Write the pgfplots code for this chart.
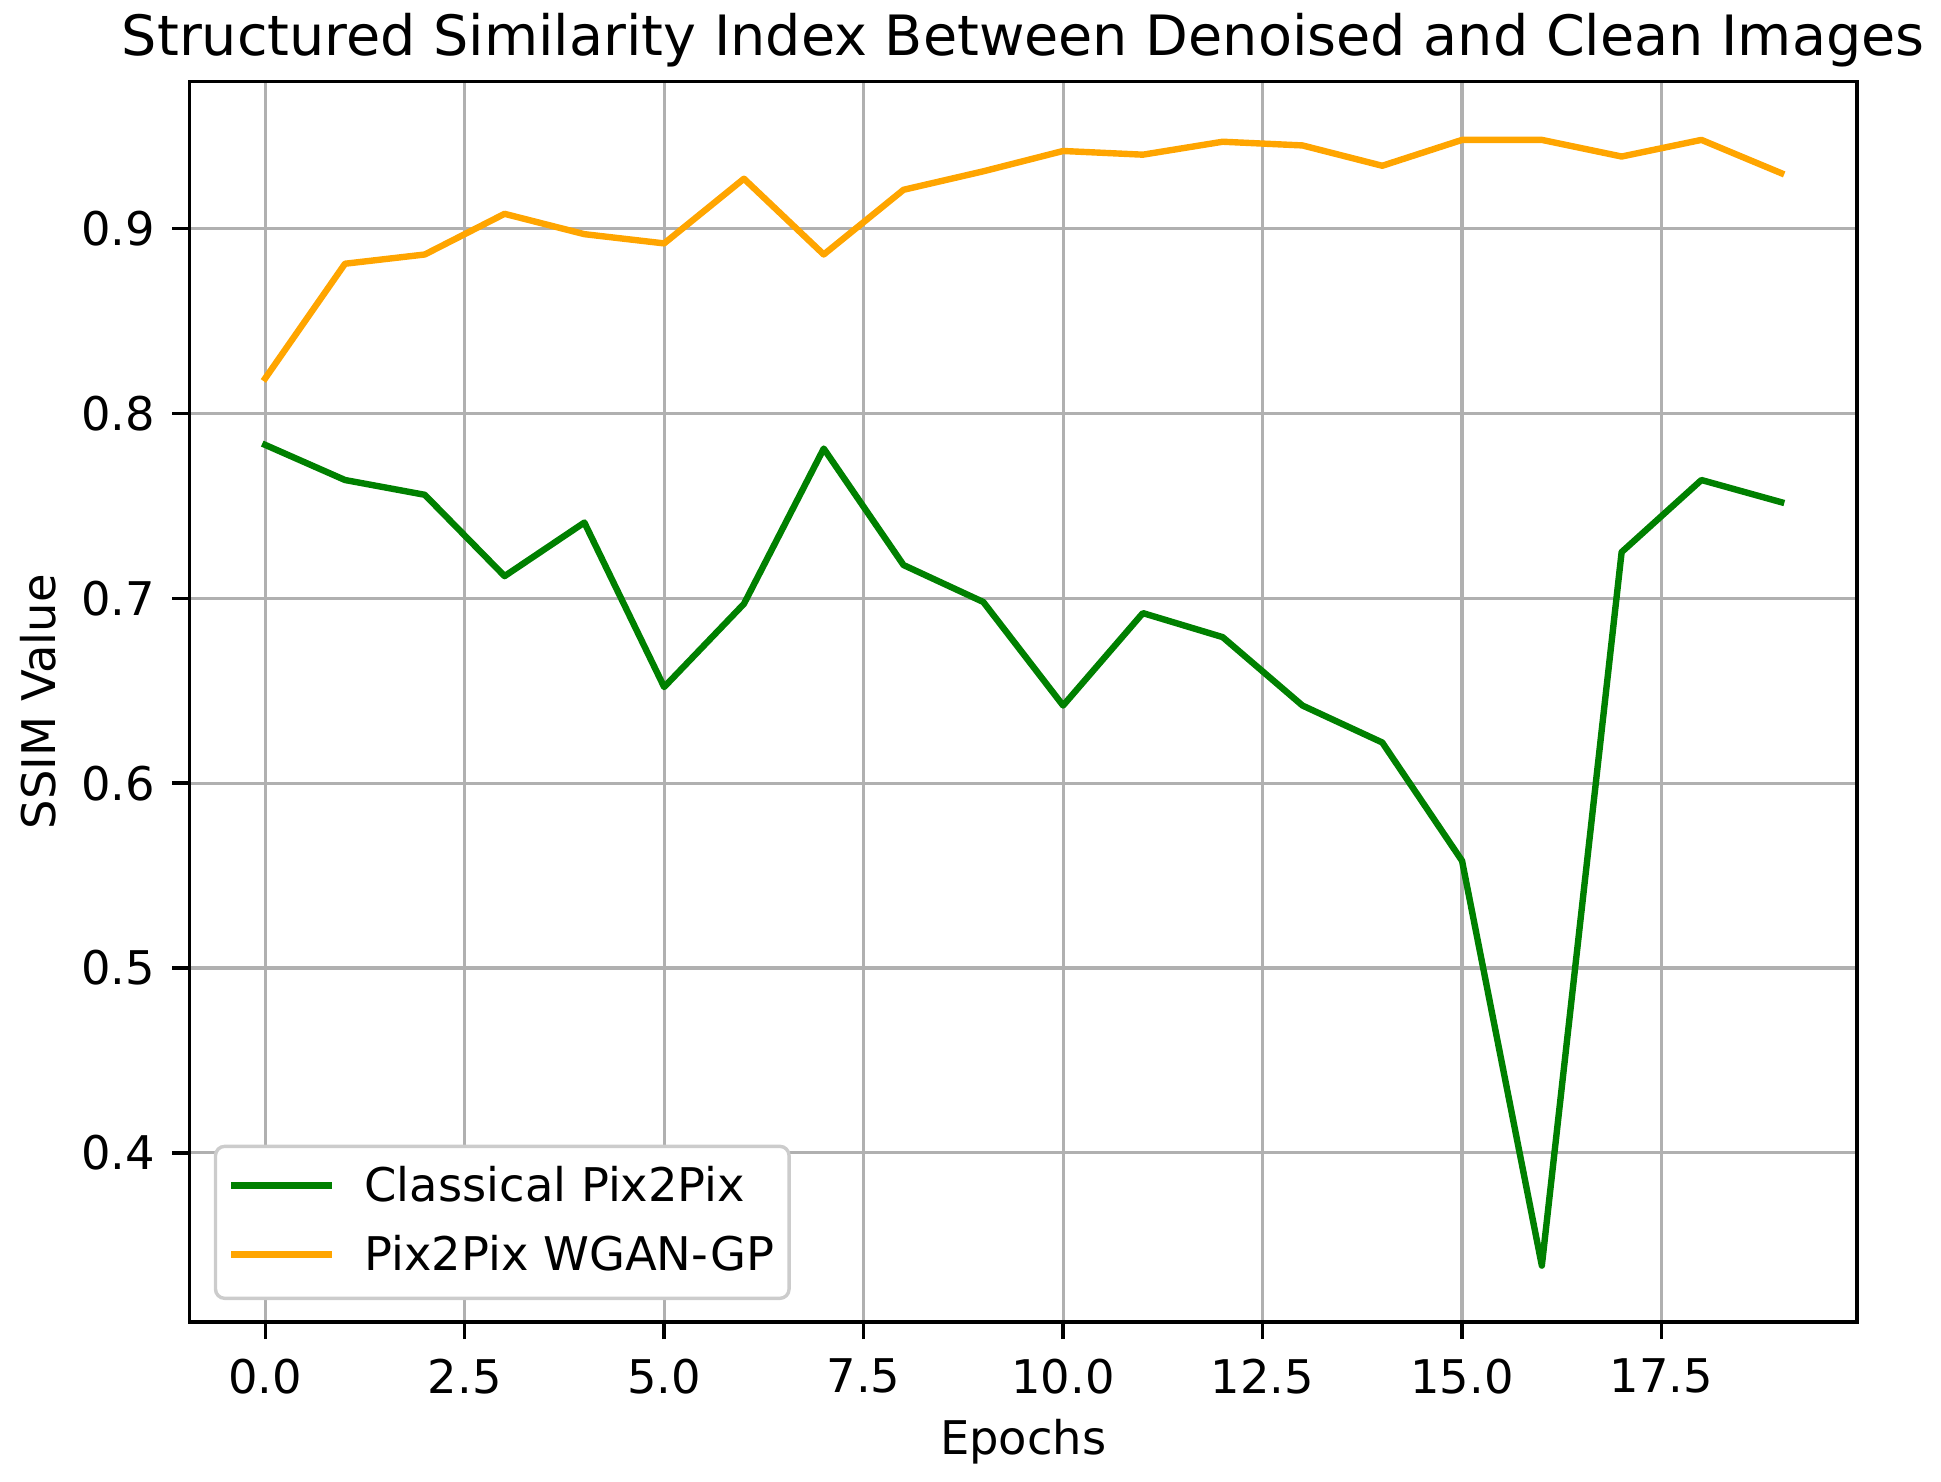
\documentclass[border=0pt]{standalone}
\usepackage{fontspec}
\setmainfont{DejaVu Sans}
\usepackage{pgfplots}
\pgfplotsset{compat=1.18}
\definecolor{mplgreen}{HTML}{008000}
\definecolor{mplorange}{HTML}{FFA500}
\definecolor{gridgray}{HTML}{B0B0B0}
\definecolor{legedge}{HTML}{CCCCCC}
\newcommand{\tfont}{\fontsize{11.6bp}{13.9bp}\selectfont}
\begin{document}
\begin{tikzpicture}
\useasboundingbox (-47.35bp,-40bp) rectangle (437.9bp,330.5bp);
\begin{axis}[
  at={(0,0)}, anchor=south west,
  scale only axis, width=416.9bp, height=310.08bp,
  xmin=-0.95, xmax=19.95, ymin=0.3085, ymax=0.9795,
  axis line style={line width=0.85bp, black},
  tick style={line width=0.85bp, black},
  major tick length=4.25bp,
  tick align=outside,
  tick pos=left,
  grid=major,
  major grid style={gridgray, line width=0.8bp},
  xtick={0,2.5,5,7.5,10,12.5,15,17.5},
  xticklabels={0.0,2.5,5.0,7.5,10.0,12.5,15.0,17.5},
  ytick={0.4,0.5,0.6,0.7,0.8,0.9},
  yticklabels={0.4,0.5,0.6,0.7,0.8,0.9},
  xticklabel style={font=\tfont, inner sep=0pt, anchor=north, yshift=-4.75bp},
  yticklabel style={font=\tfont, inner sep=0pt, anchor=east, xshift=-4.1bp},
  title={Structured Similarity Index Between Denoised and Clean Images},
  title style={font=\fontsize{13.9bp}{16.7bp}\selectfont, at={(axis description cs:0.5,1.0207)}, anchor=base, inner sep=0pt, yshift=-6pt},
  xlabel={Epochs},
  xlabel style={font=\tfont, at={(axis description cs:0.5,-0.1072)}, anchor=base, inner sep=0pt},
  ylabel={SSIM Value},
  ylabel style={font=\tfont, at={(axis description cs:-0.08,0.5)}, anchor=base, inner sep=0pt},
  legend cell align=left,
  legend style={at={(axis description cs:0.01463,0.0177)}, anchor=south west,
    font=\tfont, draw=legedge, fill=white, rounded corners=2.3bp, line width=0.85bp,
    inner xsep=3.75bp, inner ysep=1.75bp, row sep=0pt, column sep=0pt,
    nodes={inner sep=0pt, text height=12bp, text depth=5.25bp}},
  legend image code/.code={\path[draw=none] (0bp,0bp) -- (33.5bp,0bp); \draw[line width=1.6bp, line cap=rect] (0.8bp,0.6bp) -- (24.45bp,0.6bp);},
]
\addplot[mplgreen, line width=1.6bp, line join=round, line cap=rect] coordinates {
(0,0.783) (1,0.764) (2,0.756) (3,0.712) (4,0.741) (5,0.652) (6,0.697) (7,0.781) (8,0.718) (9,0.698)
(10,0.642) (11,0.692) (12,0.679) (13,0.642) (14,0.622) (15,0.558) (16,0.339) (17,0.725) (18,0.764) (19,0.752)};
\addlegendentry{Classical Pix2Pix}
\addplot[mplorange, line width=1.6bp, line join=round, line cap=rect] coordinates {
(0,0.819) (1,0.881) (2,0.886) (3,0.908) (4,0.897) (5,0.892) (6,0.927) (7,0.886) (8,0.921) (9,0.931)
(10,0.942) (11,0.940) (12,0.947) (13,0.945) (14,0.934) (15,0.948) (16,0.948) (17,0.939) (18,0.948) (19,0.930)};
\addlegendentry{Pix2Pix WGAN-GP}
\end{axis}
\end{tikzpicture}
\end{document}
